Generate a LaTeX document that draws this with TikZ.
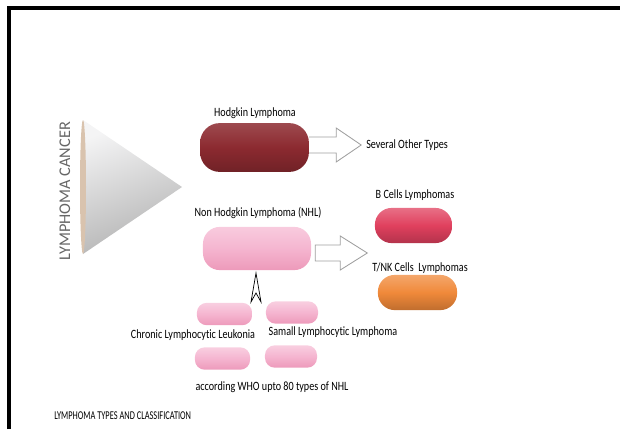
\documentclass[tikz,border=0pt]{standalone}
\usepackage{fontspec}
\setmainfont{Carlito}[Ligatures=NoCommon]
\newfontfamily\condfont{Carlito}[FakeStretch=0.8,Ligatures=NoCommon]
\newfontfamily\narrowfont{Carlito}[FakeStretch=0.7,Ligatures=NoCommon]
\usetikzlibrary{calc,shapes.misc}

\definecolor{hodred}{HTML}{8C2A30}
\definecolor{nhlpink}{HTML}{F5B5D0}
\definecolor{bcell}{HTML}{E0405E}
\definecolor{tcell}{HTML}{F0893A}
\definecolor{conebase}{HTML}{D9C3AE}

\tikzset{
  pill/.style={rectangle, rounded corners=#1, inner sep=0pt, draw=none},
  txt/.style={inner sep=0pt, font=\condfont\fontsize{9}{10}\selectfont},
  hollow/.style={draw=gray!75, fill=white, line width=0.6pt, line join=miter},
}

\begin{document}
\begin{tikzpicture}[x=0.025cm,y=-0.025cm]
            \useasboundingbox (0,0) rectangle (620,429);
            % frame
            \draw[line width=3pt] (9,429) -- (9,8) -- (620,8);

            % cone
            \shade[top color=blue!4!gray!8, bottom color=gray!60, shading angle=20]
              (83,120) -- (182,187) -- (83,254) -- cycle;
            \fill[conebase] (83,187) ellipse [x radius=3, y radius=67];
            \node[inner sep=0pt, rotate=90, text=gray!80!black, font=\fontsize{11.6}{12}\selectfont] (cancer) at (65,191){LYMPHOMA CANCER};

            % Hodgkin
            \node[pill=14pt, minimum width=2.72cm, minimum height=1.22cm,
                  top color=hodred!85!white, bottom color=hodred!80!black, middle color=hodred] (hod) at (254.5,147.5){};
            \node[txt] (hodlbl) at (255,113){Hodgkin Lymphoma};
            \node[txt, anchor=west] (other) at (366,145){Several Other Types};
            \draw[hollow] ($(hod.east)+(0,-10.5)$) -- ++(27,0) -- ++(0,-9) -- ++(25,17) -- ++(-25,17) -- ++(0,-9) -- ++(-27,0);

            % NHL
            \node[pill=12pt, minimum width=2.7cm, minimum height=1.08cm,
                  top color=nhlpink!70!white, bottom color=nhlpink!85!purple, middle color=nhlpink] (nhl) at (257,248.5){};
            \node[txt] (nhllbl) at (258,213){Non Hodgkin Lymphoma (NHL)};
            \draw[hollow] ($(nhl.east)+(4,-3.5)$) -- ++(25,0) -- ++(0,-9) -- ++(27,17) -- ++(-27,17) -- ++(0,-9) -- ++(-25,0) -- cycle;

            % B and T/NK cells
            \node[pill=12pt, minimum width=1.93cm, minimum height=0.88cm,
                  top color=bcell!75!white, bottom color=bcell!80!black, middle color=bcell] (bcl) at (413.5,225.5){};
            \node[txt] (bcllbl) at (415,195){B Cells Lymphomas};
            \node[pill=12pt, minimum width=1.98cm, minimum height=0.88cm,
                  top color=tcell!75!white, bottom color=tcell!80!black, middle color=tcell] (tnk) at (417.5,292.5){};
            \node[txt] (tnklbl) at (420,268){T/NK Cells\ \ Lymphomas};

            % up chevron
            \draw[fill=white, line width=0.5pt] (256,273) -- (251,302) -- (256,293) -- (261,302) -- cycle;

            % small NHL types
            \tikzset{small/.style={pill=7pt, minimum width=1.38cm, minimum height=0.56cm,
                  top color=nhlpink!65!white, bottom color=nhlpink!85!purple, middle color=nhlpink}}
            \node[small] (cll) at (224.5,314){};
            \node[small, minimum width=1.3cm] (sll) at (292,312.5){};
            \node[small] (who1) at (222.5,358.5){};
            \node[small, minimum width=1.3cm] (who2) at (291,356.5){};
            \node[txt] (clllbl) at (193,335){Chronic Lymphocytic Leukonia};
            \node[txt] (slllbl) at (333,332){Samall Lymphocytic Lymphoma};
            \node[txt] (wholbl) at (272,387){according WHO upto 80 types of NHL};

            % caption
            \node[txt, anchor=west, font=\narrowfont\fontsize{8.5}{9}\selectfont] (caption) at (54,416){LYMPHOMA TYPES AND CLASSIFICATION};
\end{tikzpicture}
\end{document}
